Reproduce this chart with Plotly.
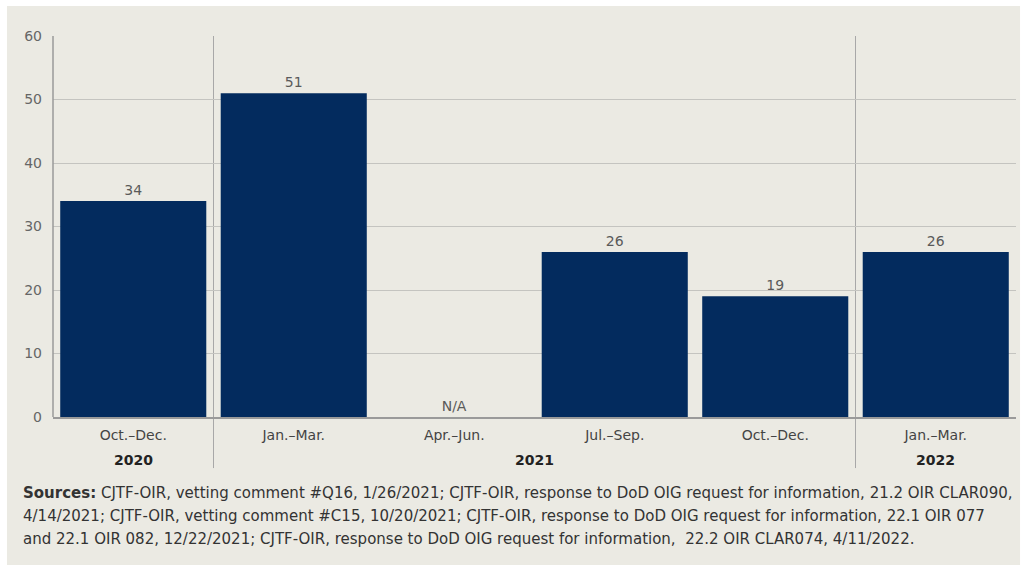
import plotly.graph_objects as go

quarters = ["Oct.–Dec.", "Jan.–Mar.", "Apr.–Jun.", "Jul.–Sep.", "Oct.–Dec.", "Jan.–Mar."]
years = ["2020", "2021", "2022"]
year_centers = [0, 2.5, 5]
values = [34, 51, 0, 26, 19, 26]
value_labels = ["34", "51", "N/A", "26", "19", "26"]
y_ticks = [0, 10, 20, 30, 40, 50, 60]
separators = [0.5, 4.5]
source_lines = [
    "<b>Sources:</b> CJTF-OIR, vetting comment #Q16, 1/26/2021; CJTF-OIR, response to DoD OIG request for information, 21.2 OIR CLAR090,",
    "4/14/2021; CJTF-OIR, vetting comment #C15, 10/20/2021; CJTF-OIR, response to DoD OIG request for information, 22.1 OIR 077",
    "and 22.1 OIR 082, 12/22/2021; CJTF-OIR, response to DoD OIG request for information,  22.2 OIR CLAR074, 4/11/2022.",
]

FONT = "DejaVu Sans"
BAR = "#032b5e"
BG = "#ebeae3"

x = list(range(len(quarters)))

fig = go.Figure()
fig.add_trace(go.Bar(
    x=x, y=values, width=0.91, marker=dict(color=BAR, line=dict(width=0)),
    text=value_labels, textposition="outside", cliponaxis=False,
    textfont=dict(family=FONT, size=14, color="#5a5a5a"),
    hoverinfo="skip",
))

shapes = [
    dict(type="rect", xref="paper", yref="paper", x0=-0.0478, x1=1.0042, y0=-0.3885, y1=1.0787,
         fillcolor=BG, line=dict(width=0), layer="below"),
]
for s in separators:
    shapes.append(dict(type="line", xref="x", yref="paper", x0=s, x1=s, y0=-0.134, y1=1,
                       line=dict(color="#a8a8a8", width=1), layer="below"))
shapes.append(dict(type="line", xref="paper", yref="paper", x0=0, x1=0, y0=0, y1=1,
                   line=dict(color="#9a9a9a", width=1.5), layer="above"))

annotations = []
for yr, c in zip(years, year_centers):
    annotations.append(dict(x=c, y=-0.113, xref="x", yref="paper", text=f"<b>{yr}</b>",
                            showarrow=False, xanchor="center", yanchor="middle",
                            font=dict(family=FONT, size=14, color="#222222")))

line_y = [-0.1995, -0.2598, -0.3202]
for txt, ly in zip(source_lines, line_y):
    annotations.append(dict(x=-0.0332, y=ly, xref="paper", yref="paper", text=txt,
                            showarrow=False, xanchor="left", yanchor="middle", align="left",
                            font=dict(family=FONT, size=15, color="#333333")))

fig.update_layout(
    width=1021, height=567,
    margin=dict(l=53, r=5, t=36, b=150),
    paper_bgcolor="white", plot_bgcolor="rgba(0,0,0,0)",
    showlegend=False, bargap=0.09,
    shapes=shapes, annotations=annotations,
    xaxis=dict(tickmode="array", tickvals=x, ticktext=quarters, range=[-0.5, 5.5],
               showgrid=False, zeroline=False, showline=True, linecolor="#9a9a9a", linewidth=1.5,
               ticks="outside", ticklen=4, tickcolor="rgba(0,0,0,0)",
               tickfont=dict(family=FONT, size=14, color="#444444"), fixedrange=True),
    yaxis=dict(tickmode="array", tickvals=y_ticks, range=[0, 60],
               showgrid=True, gridcolor="#c4c4c0", gridwidth=1, zeroline=False,
               showline=False, ticks="", ticklabelstandoff=10,
               tickfont=dict(family=FONT, size=14, color="#666666"), fixedrange=True),
)

fig.write_html("out.html", config={"displayModeBar": False},
               post_script="document.body.style.margin='0';")
